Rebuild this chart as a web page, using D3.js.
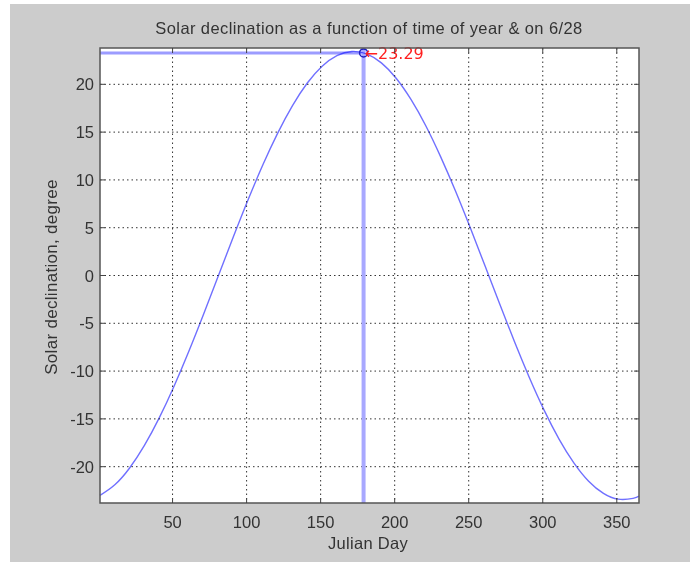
<!DOCTYPE html>
<html>
<head>
<meta charset="utf-8">
<script src="https://cdn.jsdelivr.net/npm/d3@7"></script>
<style>
  body { margin: 0; background: #fff; }
  text { font-family: "Liberation Sans", Arial, sans-serif; fill: #333; }
</style>
</head>
<body>
<div id="chart"></div>
<script>
// declination samples (day of year, degrees)
var days = [1, 11, 21, 31, 41, 51, 61, 71, 81, 91, 101, 111, 121, 131, 141, 151, 161, 171,
    181, 191, 201, 211, 221, 231, 241, 251, 261, 271, 281, 291, 301, 311, 321, 331, 341, 351, 361, 365]
var decl = [-23.01, -21.90, -20.14, -17.78, -14.90, -11.58, -7.92, -4.02, 0.00, 4.02, 7.92, 11.58,
    14.90, 17.78, 20.14, 21.90, 23.01, 23.44, 23.18, 22.24, 20.64, 18.42, 15.67, 12.44, 8.86, 5.01,
    1.01, -3.02, -6.96, -10.69, -14.11, -17.11, -19.60, -21.52, -22.80, -23.40, -23.31, -23.09]

var xTicks = [50, 100, 150, 200, 250, 300, 350]
var yTicks = [-20, -15, -10, -5, 0, 5, 10, 15, 20]

var markDay = 179
var markVal = 23.29
var title = "Solar declination as a function of time of year & on 6/28"

const width = 698, height = 567
const plotL = 100, plotR = 639, plotT = 48, plotB = 503
const fs = 16.5

const svg = d3.select("#chart").append("svg")
    .attr("width", width)
    .attr("height", height)

// figure background
svg.append("rect")
    .attr("x", 10).attr("y", 4)
    .attr("width", 680).attr("height", 558)
    .attr("fill", "#cccccc")

const x = d3.scaleLinear().domain([1, 365]).range([plotL, plotR])
const y = d3.scaleLinear().domain([-23.8, 23.8]).range([plotB, plotT])

svg.append("rect")
    .attr("x", plotL).attr("y", plotT)
    .attr("width", plotR - plotL).attr("height", plotB - plotT)
    .attr("fill", "white")

// dotted grid
const grid = svg.append("g")
    .attr("stroke", "#333")
    .attr("stroke-width", 1)
    .attr("stroke-dasharray", "1.5,3")
grid.selectAll(".gx").data(xTicks).join("line")
    .attr("x1", d => x(d)).attr("x2", d => x(d))
    .attr("y1", plotT).attr("y2", plotB)
grid.selectAll(".gy").data(yTicks).join("line")
    .attr("x1", plotL).attr("x2", plotR)
    .attr("y1", d => y(d)).attr("y2", d => y(d))

// marker lines for 6/28
const marks = svg.append("g")
marks.append("line")
    .attr("x1", x(1)).attr("x2", x(markDay))
    .attr("y1", y(markVal)).attr("y2", y(markVal))
    .attr("stroke", "#9c9cff").attr("stroke-width", 3)
marks.append("line")
    .attr("x1", x(markDay)).attr("x2", x(markDay))
    .attr("y1", plotT).attr("y2", plotB)
    .attr("stroke", "#a8a8ff").attr("stroke-width", 4)

const line = d3.line()
    .x(d => x(d[0]))
    .y(d => y(d[1]))
    .curve(d3.curveNatural)

marks.append("path")
    .datum(days.map((d, i) => [d, decl[i]]))
    .attr("fill", "none")
    .attr("stroke", "#7070ff")
    .attr("stroke-width", 1.4)
    .style("mix-blend-mode", "multiply")
    .attr("d", line)

svg.append("circle")
    .attr("cx", x(markDay)).attr("cy", y(markVal))
    .attr("r", 4)
    .attr("fill", "none")
    .attr("stroke", "#2020c0")
    .attr("stroke-width", 1.5)

svg.append("text")
    .attr("x", x(markDay) + 1).attr("y", y(markVal) + 6)
    .style("fill", "#ff2020")
    .style("font-family", "'DejaVu Sans', sans-serif")
    .attr("font-size", 16)
    .text("\u2190" + markVal.toFixed(2))

// axes box and ticks
svg.append("rect")
    .attr("x", plotL).attr("y", plotT)
    .attr("width", plotR - plotL).attr("height", plotB - plotT)
    .attr("fill", "none")
    .attr("stroke", "#555")
    .attr("stroke-width", 1.5)

const ticks = svg.append("g").attr("stroke", "#444")
xTicks.forEach(t => {
    ticks.append("line").attr("x1", x(t)).attr("x2", x(t)).attr("y1", plotB).attr("y2", plotB - 5)
    ticks.append("line").attr("x1", x(t)).attr("x2", x(t)).attr("y1", plotT).attr("y2", plotT + 5)
})
yTicks.forEach(t => {
    ticks.append("line").attr("x1", plotL).attr("x2", plotL + 5).attr("y1", y(t)).attr("y2", y(t))
    ticks.append("line").attr("x1", plotR).attr("x2", plotR - 5).attr("y1", y(t)).attr("y2", y(t))
})

svg.selectAll(".xl").data(xTicks).join("text")
    .attr("x", d => x(d)).attr("y", plotB + 25)
    .attr("text-anchor", "middle")
    .attr("font-size", fs)
    .text(d => d)

svg.selectAll(".yl").data(yTicks).join("text")
    .attr("x", plotL - 6).attr("y", d => y(d) + 6)
    .attr("text-anchor", "end")
    .attr("font-size", fs)
    .text(d => d)

svg.append("text")
    .attr("x", 369).attr("y", 34)
    .attr("text-anchor", "middle")
    .attr("font-size", fs)
    .attr("letter-spacing", 0.4)
    .text(title)

svg.append("text")
    .attr("x", 368).attr("y", 549)
    .attr("text-anchor", "middle")
    .attr("font-size", fs)
    .attr("letter-spacing", 0.3)
    .text("Julian Day")

svg.append("text")
    .attr("transform", `translate(57,277) rotate(-90)`)
    .attr("text-anchor", "middle")
    .attr("font-size", 17)
    .attr("letter-spacing", 0.3)
    .text("Solar declination, degree")
</script>
</body>
</html>
